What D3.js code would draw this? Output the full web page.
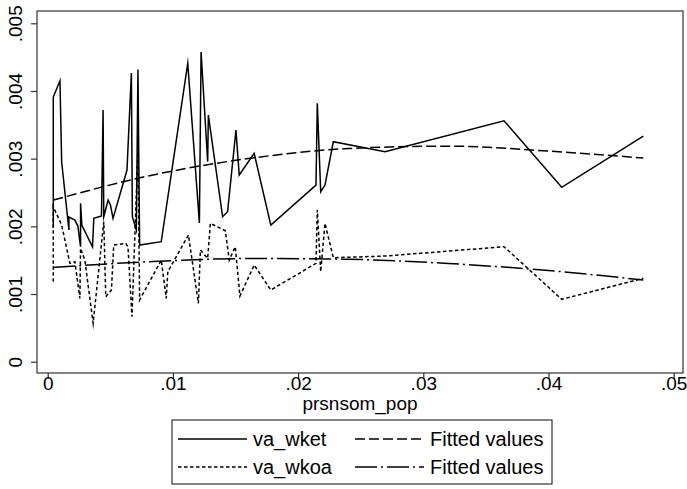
<!DOCTYPE html>
<html>
<head>
<meta charset="utf-8">
<script src="https://cdn.jsdelivr.net/npm/d3@7"></script>
<style>
  html, body { margin: 0; padding: 0; background: #fff; }
  svg { display: block; font-family: "Liberation Sans", Arial, sans-serif; }
</style>
</head>
<body>
<svg id="chart" width="687" height="489"></svg>
<script>
// ---- data ----
const xWket = [.000446, .000446, .000979, .001114, .001695, .001695, .002172, .002411, .002625, .002625,
  .002729, .003580, .003683, .004296, .004423, .004479, .004821, .005012, .005219, .006333,
  .006683, .006762, .007080, .007208, .007343, .009069, .011186, .012116, .012251, .012777,
  .012832, .013970, .014368, .015036, .015298, .016492, .017820, .021429, .021534, .021805,
  .022148, .022812, .026941, .036446, .041054, .047572];
const yWket = [.001975, .003910, .004151, .002954, .001946, .002137, .002093, .002004, .001699, .002340,
  .002015, .001699, .002118, .002152, .003718, .002142, .002388, .002315, .002118, .002832,
  .004264, .002142, .001945, .004319, .001724, .001773, .004408, .002049, .004575, .002954,
  .003644, .002142, .002216, .003422, .002758, .003078, .002019, .002610, .003817, .002511,
  .002610, .003250, .003102, .003560, .002576, .003334];

const xWkoa = [.000446, .000446, .001114, .001774, .002172, .002570, .002625, .002967, .003628, .004479,
  .004638, .005091, .005274, .006229, .006412, .006730, .007208, .007343, .009069, .009467,
  .009594, .011241, .012036, .012196, .012777, .012991, .014185, .014502, .014980, .015354,
  .016492, .017820, .021429, .021534, .021805, .022148, .022812, .026941, .036446, .041054, .047572];
const yWkoa = [.001182, .002290, .002019, .001453, .001477, .000936, .001675, .001502, .000567, .002068,
  .000960, .001059, .001724, .001749, .001699, .000665, .003127, .000911, .001502, .000936,
  .001329, .001871, .000863, .001650, .001527, .002044, .001935, .001502, .001699, .000970,
  .001428, .001059, .001453, .002241, .001329, .002044, .001536, .001561, .001699, .000922, .001232];

const xFit = [.000446, .008, .016, .024, .032, .040, .047572];
const yFitWket = [.002388, .002743, .003001, .003149, .003185, .003112, .003009];
const yFitWkoa = [.001394, .001477, .001524, .001513, .001451, .001347, .001207];

const xTickVals = [0, .01, .02, .03, .04, .05];
const xTickLabels = ["0", ".01", ".02", ".03", ".04", ".05"];
const yTickVals = [0, .001, .002, .003, .004, .005];
const yTickLabels = ["0", ".001", ".002", ".003", ".004", ".005"];
const xTitle = "prsnsom_pop";
const legendLabels = ["va_wket", "Fitted values", "va_wkoa", "Fitted values"];

// ---- layout ----
const svg = d3.select("#chart");
const frame = {left: 37, top: 11, right: 683, bottom: 373};
const x = d3.scaleLinear().domain([0, .05]).range([47.7, 673.7]);
const y = d3.scaleLinear().domain([0, .005]).range([361.7, 23.3]);
const FS_TICK = 19, FS_TITLE = 19, FS_LEG = 20;

svg.append("rect").attr("width", 687).attr("height", 489).attr("fill", "#fff");

// plot frame
svg.append("rect")
  .attr("x", frame.left).attr("y", frame.top)
  .attr("width", frame.right - frame.left).attr("height", frame.bottom - frame.top)
  .attr("fill", "#fff").attr("stroke", "#333").attr("stroke-width", 1.2);

// axes
const xAxis = d3.axisBottom(x).tickValues(xTickVals)
  .tickFormat((d, i) => xTickLabels[i]).tickSize(6).tickSizeOuter(0).tickPadding(0);
const gx = svg.append("g").attr("transform", `translate(0,${frame.bottom})`).call(xAxis);
gx.select(".domain").remove();
gx.selectAll("line").attr("stroke", "#333").attr("stroke-width", 1.2);
gx.selectAll("text").attr("font-size", FS_TICK).attr("fill", "#000").attr("y", 4);

const yAxis = d3.axisLeft(y).tickValues(yTickVals)
  .tickFormat((d, i) => yTickLabels[i]).tickSize(6).tickSizeOuter(0);
const gy = svg.append("g").attr("transform", `translate(${frame.left},0)`).call(yAxis);
gy.select(".domain").remove();
gy.selectAll("line").attr("stroke", "#333").attr("stroke-width", 1.2);
gy.selectAll("text")
  .attr("font-size", FS_TICK).attr("fill", "#000")
  .attr("x", 0).attr("dy", 0)
  .attr("text-anchor", "middle")
  .attr("transform", "translate(-15,0) rotate(-90)");

svg.append("text").attr("x", (frame.left + frame.right) / 2).attr("y", 410)
  .attr("text-anchor", "middle").attr("font-size", FS_TITLE).text(xTitle);

// lines
const line = d3.line().x(d => x(d[0])).y(d => y(d[1]));
const lineSmooth = d3.line().x(d => x(d[0])).y(d => y(d[1])).curve(d3.curveMonotoneX);

const styles = {
  solid: {dash: null, w: 1.5},
  short: {dash: "3.5,2.5", w: 1.5},
  dash: {dash: "10,4", w: 1.5},
  dashdot: {dash: "22,4,2,4", w: 1.5}
};

function draw(path, st) {
  const p = svg.append("path").attr("d", path).attr("fill", "none")
    .attr("stroke", "#000").attr("stroke-width", st.w).attr("stroke-linejoin", "miter").attr("stroke-miterlimit", 10);
  if (st.dash) p.attr("stroke-dasharray", st.dash);
}

draw(line(xWket.map((v, i) => [v, yWket[i]])), styles.solid);
draw(line(xWkoa.map((v, i) => [v, yWkoa[i]])), styles.short);
draw(lineSmooth(xFit.map((v, i) => [v, yFitWket[i]])), styles.dash);
draw(lineSmooth(xFit.map((v, i) => [v, yFitWkoa[i]])), styles.dashdot);

// legend
const lg = {x: 172, y: 420, w: 380, h: 64};
svg.append("rect").attr("x", lg.x).attr("y", lg.y).attr("width", lg.w).attr("height", lg.h)
  .attr("fill", "#fff").attr("stroke", "#333").attr("stroke-width", 1.2);
const items = [
  {col: 0, row: 0, st: styles.solid},
  {col: 1, row: 0, st: styles.dash},
  {col: 0, row: 1, st: styles.short},
  {col: 1, row: 1, st: styles.dashdot}
];
const colX = [178, 355];
const rowY = [439, 467];
items.forEach((it, i) => {
  const x0 = colX[it.col], yy = rowY[it.row];
  const p = svg.append("line").attr("x1", x0).attr("x2", x0 + 69).attr("y1", yy).attr("y2", yy)
    .attr("stroke", "#000").attr("stroke-width", it.st.w);
  if (it.st.dash) p.attr("stroke-dasharray", it.st.dash);
  svg.append("text").attr("x", x0 + 75).attr("y", yy).attr("dy", "0.35em")
    .attr("font-size", FS_LEG).text(legendLabels[i]);
});
</script>
</body>
</html>
